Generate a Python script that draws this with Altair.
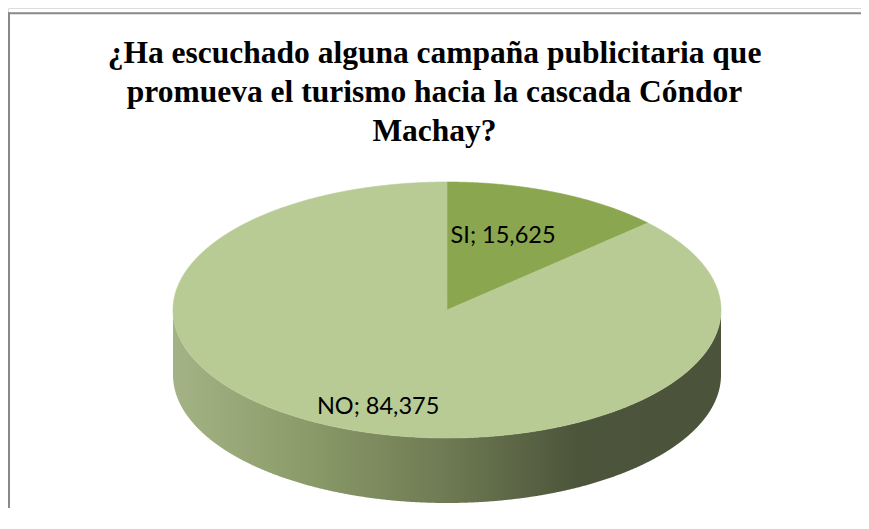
import numpy as np
import pandas as pd
import altair as alt

# ---------------- data ----------------
categories = ["SI", "NO"]
values = [15.625, 84.375]
title_lines = [
    "¿Ha escuchado alguna campaña publicitaria que",
    "promueva el turismo hacia la cascada Cóndor",
    "Machay?",
]

# ---------------- layout / style ----------------
W, H = 853, 500                     # svg size (autosize none, padding 0)
CX, CY = 439.0, 302.0               # centre of the pie's top face
A, B = 274.0, 128.0                 # semi-axes of the top face
DEPTH = 65.0                        # thickness of the 3-D pie
K = 0.72                            # horizontal stretch of the 3-D pie
top_colors = ["#8aa64f", "#b9cb94"]
side_stops = [("#a3b385", 0.0), ("#8a9a68", 0.25), ("#6e7a53", 0.5),
              ("#4c543a", 0.74), ("#4b533a", 1.0)]
label_r = [(0.57, 0.62), (0.70, 0.81)]

# ---------------- geometry derived from the values ----------------
total = float(sum(values))
cum = np.concatenate([[0.0], np.cumsum(values)]) / total * 2 * np.pi


def param(theta):
    return np.arctan2(K * np.sin(theta), np.cos(theta))


def top_y(x):
    u = (x - CX) / A
    return CY - B * np.sqrt(np.clip(1 - u * u, 0, None))


def bot_y(x):
    u = (x - CX) / A
    return CY + B * np.sqrt(np.clip(1 - u * u, 0, None))


t_end = param(cum[1])
ex, ey = CX + A * np.sin(t_end), CY - B * np.cos(t_end)

grid = CX - A * np.cos(np.linspace(0, np.pi, 901))

# first slice (SI): wedge from 12 o'clock to its end angle
xs_si = np.unique(np.concatenate([[CX, ex], grid[(grid > CX) & (grid < ex)]]))
si = pd.DataFrame({
    "slice": categories[0],
    "x": xs_si,
    "y": top_y(xs_si),
    "y2": CY + (xs_si - CX) * (ey - CY) / (ex - CX),
})

# second slice (NO): rest of the top face
xs_no = np.unique(np.concatenate([grid, [CX - 0.01, CX, ex]]))
y_no = np.where((xs_no >= CX) & (xs_no <= ex),
                CY + (xs_no - CX) * (ey - CY) / (ex - CX), top_y(xs_no))
no = pd.DataFrame({"slice": categories[1], "x": xs_no, "y": y_no, "y2": bot_y(xs_no)})

top = pd.concat([si, no], ignore_index=True)

side = pd.DataFrame({"x": grid, "y": bot_y(grid), "y2": bot_y(grid) + DEPTH})

lab_rows = []
for i, (c, v) in enumerate(zip(categories, values)):
    tm = param((cum[i] + cum[i + 1]) / 2)
    rx, ry = label_r[i]
    lab_rows.append({
        "slice": c,
        "label": f"{c}; " + f"{v:.3f}".replace(".", ","),
        "x": CX + rx * A * np.sin(tm),
        "y": CY - ry * B * np.cos(tm),
    })
labels = pd.DataFrame(lab_rows)

# ---------------- chart ----------------
xs = alt.Scale(domain=[0, W], nice=False, zero=False)
ys = alt.Scale(domain=[0, H], nice=False, zero=False, reverse=True)

gradient = alt.LinearGradient(
    gradient="linear",
    stops=[alt.GradientStop(color=c, offset=o) for c, o in side_stops],
    x1=0, x2=1, y1=0, y2=0,
)

side_layer = alt.Chart(side).mark_area(color=gradient, interpolate="linear").encode(
    x=alt.X("x:Q", scale=xs, axis=None),
    y=alt.Y("y:Q", scale=ys, axis=None, stack=None),
    y2="y2:Q",
)

cscale = alt.Scale(domain=categories, range=top_colors)
top_layer = alt.Chart(top).mark_area(strokeWidth=0.6, opacity=1).encode(
    x=alt.X("x:Q", scale=xs, axis=None),
    y=alt.Y("y:Q", scale=ys, axis=None, stack=None),
    y2="y2:Q",
    color=alt.Color("slice:N", scale=cscale, legend=None),
    stroke=alt.Stroke("slice:N", scale=cscale, legend=None),
    order=alt.Order("slice:N"),
)

label_layer = alt.Chart(labels).mark_text(
    font="Lato", fontSize=23.5, color="black", align="center", baseline="middle"
).encode(
    x=alt.X("x:Q", scale=xs, axis=None),
    y=alt.Y("y:Q", scale=ys, axis=None),
    text="label:N",
)

one = pd.DataFrame({"k": [0]})
frame_left = alt.Chart(one).mark_rule(color="#898989", strokeWidth=2).encode(
    x=alt.value(1), y=alt.value(4.3), y2=alt.value(H)
)
frame_top = alt.Chart(one).mark_rule(color="#898989", strokeWidth=2).encode(
    x=alt.value(0), x2=alt.value(W), y=alt.value(5.3)
)

chart = alt.layer(frame_left, frame_top, side_layer, top_layer, label_layer).properties(
    width=W,
    height=H,
    autosize=alt.AutoSizeParams(type="none"),
    padding=0,
    title=alt.TitleParams(
        text=title_lines,
        font="Liberation Serif",
        fontSize=31.5,
        fontWeight="bold",
        color="black",
        anchor="middle",
        lineHeight=39,
        offset=-139,
    ),
).configure_view(stroke=None).configure(background="white")

chart.save("out.html", embed_options={"renderer": "svg", "actions": False})
